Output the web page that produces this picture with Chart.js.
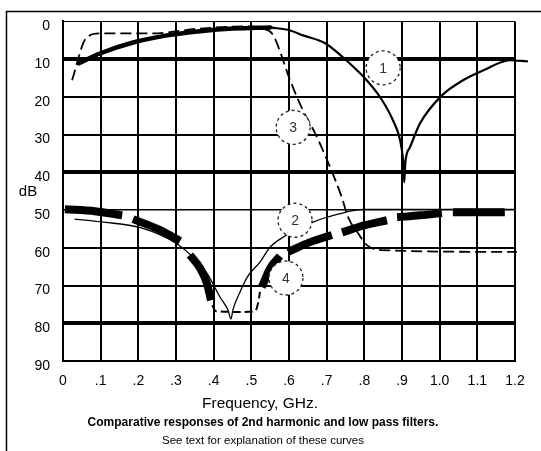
<!DOCTYPE html>
<html>
<head>
<meta charset="utf-8">
<script src="https://cdn.jsdelivr.net/npm/chart.js@4/dist/chart.umd.min.js"></script>
<style>
  html, body { margin: 0; padding: 0; background: #fff; }
  #wrap { width: 541px; height: 451px; }
</style>
</head>
<body>
<div id="wrap"><canvas id="chart" width="541" height="451"></canvas></div>
<script>
// axis ticks
const freqTicks = [0, 0.1, 0.2, 0.3, 0.4, 0.5, 0.6, 0.7, 0.8, 0.9, 1.0, 1.1, 1.2];
const freqLabels = ['0', '.1', '.2', '.3', '.4', '.5', '.6', '.7', '.8', '.9', '1.0', '1.1', '1.2'];
const dbTicks = [0, 10, 20, 30, 40, 50, 60, 70, 80, 90];
const heavyDb = [10, 40, 80];

// curve 1 - heavy part at the start, thin part with the notch near .9 GHz
const c1aFreq = [0.042, 0.098, 0.186, 0.276, 0.364, 0.451, 0.55];
const c1aDb   = [11.1, 8.5, 5.6, 3.7, 2.6, 1.9, 1.6];
const c1bFreq = [0.55, 0.603, 0.637, 0.696, 0.743, 0.781, 0.799, 0.842, 0.876, 0.895, 0.903, 0.906, 0.909, 0.921, 0.948, 1.006, 1.062, 1.115, 1.187, 1.232];
const c1bDb   = [1.6, 2.4, 3.7, 5.8, 9.5, 13.0, 14.8, 20.1, 26.2, 31.5, 37.0, 42.6, 37.2, 33.4, 27.0, 19.6, 15.6, 13.0, 10.3, 10.6];

// curve 2 - thin solid, notch near .45 GHz
const c2Freq = [0.032, 0.109, 0.21, 0.3, 0.345, 0.382, 0.417, 0.438, 0.446, 0.451, 0.47, 0.491, 0.523, 0.55, 0.584, 0.664, 0.73, 0.797, 1.2];
const c2Db   = [52.4, 53.2, 54.8, 58.8, 62.5, 66.7, 73.1, 76.5, 78.9, 76.5, 71.7, 67.5, 63.8, 59.8, 57.2, 53.2, 51.1, 49.8, 49.8];

// curve 3 - dashed low pass response
const c3Freq = [0.024, 0.061, 0.098, 0.231, 0.364, 0.496, 0.528, 0.555, 0.568, 0.603, 0.637, 0.669, 0.709, 0.74, 0.757, 0.783, 0.807, 0.842, 1.205];
const c3Db   = [15.6, 4.5, 3.2, 3.2, 1.9, 1.3, 1.9, 3.2, 5.8, 15.6, 23.6, 29.6, 38.6, 46.6, 51.9, 56.1, 59.3, 60.6, 61.1];

// curve 4 - heavy long dashes (null = gap), thin dashed bottom
const c4Freq = [0.005, 0.085, 0.157, 0.17, 0.186, 0.258, 0.311, 0.324, 0.337, 0.364, 0.382, 0.393, 0.46, 0.528, 0.55, 0.576, 0.587, 0.597, 0.656, 0.714, 0.728, 0.741, 0.802, 0.86, 0.873, 0.887, 0.948, 1.006, 1.02, 1.035, 1.173];
const c4Db   = [49.8, 50.3, 51.4, null, 52.4, 55.3, 58.2, null, 61.9, 65.4, 69.4, 73.9, null, 70.4, 65.4, 62.2, null, 61.1, 58.5, 56.6, null, 55.9, 54.0, 52.7, null, 51.9, 51.4, 50.8, null, 50.6, 50.6];
const c4bFreq = [0.396, 0.406, 0.47, 0.51, 0.518, 0.523];
const c4bDb   = [75.2, 76.8, 77.0, 76.8, 74.6, 71.7];

// numbered curve markers
const markLabels = ['1', '2', '3', '4'];
const markFreq = [0.85, 0.616, 0.611, 0.592];
const markDb = [12.3, 52.7, 28.1, 68.0];

const FONT = '"Liberation Sans", Arial, sans-serif';

function pts(xs, ys) {
    return xs.map((x, i) => ({ x: x, y: ys[i] }));
}

function line(data, width, dash, cap) {
    return {
        data: data,
        showLine: true,
        borderColor: '#000',
        borderWidth: width,
        borderDash: dash || [],
        borderCapStyle: cap || 'round',
        pointRadius: 0,
        cubicInterpolationMode: 'monotone',
        clip: false
    };
}

const decor = {
    id: 'decor',
    beforeDraw(chart) {
        const ctx = chart.ctx;
        ctx.save();
        ctx.fillStyle = '#fff';
        ctx.fillRect(0, 0, chart.width, chart.height);
        ctx.restore();
    },
    afterDatasetsDraw(chart) {
        const { ctx, scales: { x, y } } = chart;
        markLabels.forEach((t, i) => {
            const px = x.getPixelForValue(markFreq[i]);
            const py = y.getPixelForValue(markDb[i]);
            ctx.save();
            ctx.beginPath();
            ctx.arc(px, py, 17, 0, Math.PI * 2);
            ctx.fillStyle = '#fff';
            ctx.fill();
            ctx.setLineDash([3, 3]);
            ctx.lineWidth = 1.3;
            ctx.strokeStyle = '#222';
            ctx.stroke();
            ctx.fillStyle = '#333';
            ctx.font = '14px ' + FONT;
            ctx.textAlign = 'center';
            ctx.textBaseline = 'middle';
            ctx.fillText(t, px, py + 1);
            ctx.restore();
        });
    },
    afterDraw(chart) {
        const ctx = chart.ctx;
        ctx.save();
        // outer frame (runs off the right and bottom edges)
        ctx.strokeStyle = '#000';
        ctx.lineWidth = 1.5;
        ctx.beginPath();
        ctx.moveTo(6.5, chart.height);
        ctx.lineTo(6.5, 11.5);
        ctx.lineTo(chart.width, 11.5);
        ctx.stroke();

        ctx.fillStyle = '#000';
        ctx.textAlign = 'center';
        ctx.textBaseline = 'middle';
        ctx.font = '15px ' + FONT;
        ctx.fillText('dB', 28, 192);
        ctx.font = '15.5px ' + FONT;
        ctx.fillText('Frequency, GHz.', 260, 404);
        ctx.font = 'bold 12px ' + FONT;
        ctx.fillText('Comparative responses of 2nd harmonic and low pass filters.', 263, 423);
        ctx.font = '11.5px ' + FONT;
        ctx.fillText('See text for explanation of these curves', 263, 441);
        ctx.restore();
    }
};

new Chart(document.getElementById('chart'), {
    type: 'scatter',
    data: {
        datasets: [
            line(pts(c1aFreq, c1aDb), 4.5),
            line(pts(c1bFreq, c1bDb), 2.2),
            line(pts(c2Freq, c2Db), 1.3),
            line(pts(c3Freq, c3Db), 1.8, [11, 5], 'butt'),
            line(pts(c4Freq, c4Db), 8, [], 'butt'),
            line(pts(c4bFreq, c4bDb), 2, [8, 4], 'butt')
        ]
    },
    options: {
        responsive: false,
        animation: false,
        layout: { padding: { left: 0, top: 21, right: 26, bottom: 0 } },
        plugins: {
            legend: { display: false },
            tooltip: { enabled: false }
        },
        scales: {
            x: {
                type: 'linear',
                min: 0,
                max: 1.2,
                afterFit: s => { s.height = 90; },
                afterBuildTicks: s => { s.ticks = freqTicks.map(v => ({ value: v })); },
                grid: { color: '#000', lineWidth: 2, drawTicks: false },
                border: { color: '#000', width: 2 },
                ticks: {
                    padding: 12,
                    maxRotation: 0,
                    autoSkip: false,
                    color: '#000',
                    font: { family: FONT, size: 14 },
                    callback: (v, i) => freqLabels[i]
                }
            },
            y: {
                type: 'linear',
                reverse: true,
                min: 0,
                max: 90,
                afterFit: s => { s.width = 63; },
                afterBuildTicks: s => { s.ticks = dbTicks.map(v => ({ value: v })); },
                grid: {
                    color: '#000',
                    drawTicks: false,
                    lineWidth: c => {
                        const v = c.tick ? c.tick.value : -1;
                        if (heavyDb.includes(v)) return 4;
                        if (v === 0) return 1;
                        if (v === 50) return 1.5;
                        return 2;
                    }
                },
                border: { color: '#000', width: 2 },
                ticks: {
                    padding: 13,
                    labelOffset: 5,
                    color: '#000',
                    font: { family: FONT, size: 14 },
                    callback: v => String(v)
                }
            }
        }
    },
    plugins: [decor]
});
</script>
</body>
</html>
